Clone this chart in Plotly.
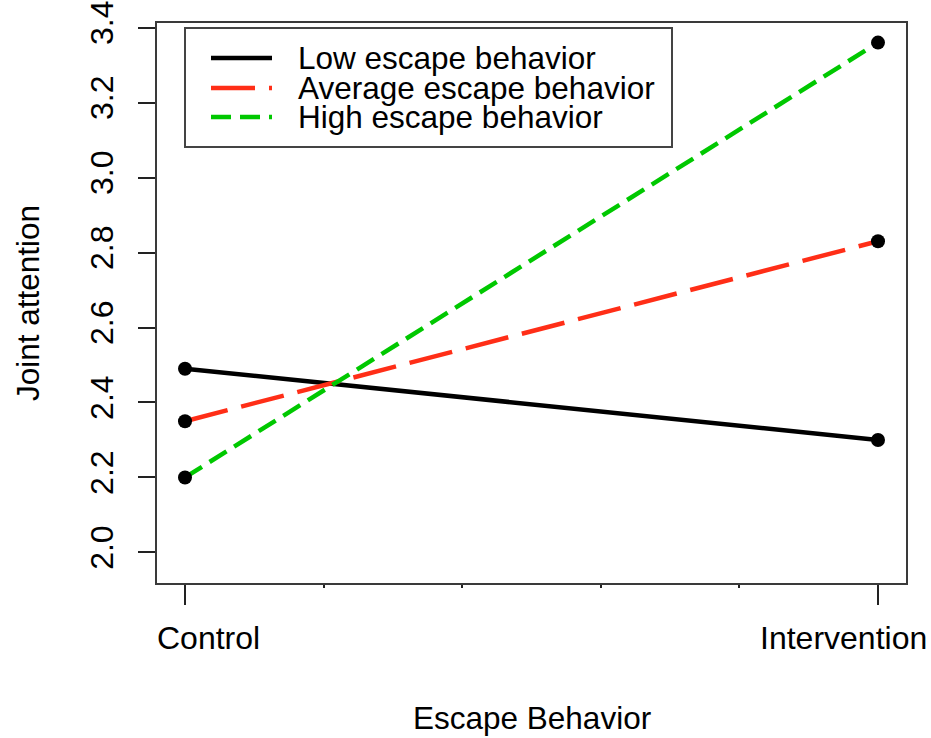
import plotly.graph_objects as go

# Predicted joint attention by condition, at three levels of escape behavior
conditions = ["Control", "Intervention"]
condition_pos = [0, 1]
series_names = ["Low escape behavior", "Average escape behavior", "High escape behavior"]
low_escape = [2.49, 2.30]
average_escape = [2.35, 2.83]
high_escape = [2.20, 3.36]
y_ticks = [2.0, 2.2, 2.4, 2.6, 2.8, 3.0, 3.2, 3.4]
x_minor_ticks = [0.2, 0.4, 0.6, 0.8]
x_title = "Escape Behavior"
y_title = "Joint attention"

series_values = [low_escape, average_escape, high_escape]
line_colors = ["#000000", "#FF2E17", "#00C800"]
line_dashes = ["solid", "44px,14px", "20px,9px"]

FONT = "Liberation Sans, Arial, sans-serif"
W, H = 931, 738
ML, MR, MT, MB = 157, 25, 23, 155
PW, PH = W - ML - MR, H - MT - MB


def px_x(px):
    return (px - ML) / PW


def px_y(py):
    return (H - MB - py) / PH


fig = go.Figure()

for name, vals, col, dash in zip(series_names, series_values, line_colors, line_dashes):
    fig.add_trace(go.Scatter(
        x=condition_pos, y=vals, mode="lines", name=name,
        line=dict(color=col, width=4.5, dash=dash), showlegend=False,
    ))
for name, vals in zip(series_names, series_values):
    fig.add_trace(go.Scatter(
        x=condition_pos, y=vals, mode="markers", name=name,
        marker=dict(color="black", size=14), showlegend=False,
    ))

axis_col = "#3a3a3a"
fig.update_xaxes(
    range=[-0.0404, 1.0404], showgrid=False, zeroline=False, automargin=False,
    showline=True, mirror=True, linecolor=axis_col, linewidth=2,
    tickvals=condition_pos, ticktext=["", ""], ticks="outside", ticklen=20,
    tickwidth=1.5, tickcolor="#222",
    minor=dict(tickvals=x_minor_ticks, ticks="outside", ticklen=3,
               tickwidth=1.5, tickcolor="#222"),
)
fig.update_yaxes(
    range=[1.9184, 3.4123], showgrid=False, zeroline=False, automargin=False,
    showline=True, mirror=True, linecolor=axis_col, linewidth=2,
    tickvals=y_ticks, ticktext=[f"{v:.1f}" for v in y_ticks],
    ticks="outside", ticklen=17, tickwidth=1.5, tickcolor="#222",
    tickangle=-90, tickfont=dict(family=FONT, size=32, color="black"),
    ticklabelstandoff=12,
)

annotations = []
# condition labels under the x axis
annotations.append(dict(x=condition_pos[0], xref="x", y=0, yref="paper",
                        text=conditions[0], showarrow=False, xanchor="center",
                        yanchor="middle", xshift=23, yshift=-55,
                        font=dict(family=FONT, size=32, color="black")))
annotations.append(dict(x=condition_pos[1], xref="x", y=0, yref="paper",
                        text=conditions[1], showarrow=False, xanchor="center",
                        yanchor="middle", xshift=-35, yshift=-55,
                        font=dict(family=FONT, size=32, color="black")))
# axis titles
annotations.append(dict(x=0.5, xref="paper", y=0, yref="paper", text=x_title,
                        showarrow=False, xanchor="center", yanchor="middle",
                        yshift=-135, font=dict(family=FONT, size=31.5, color="black")))
annotations.append(dict(x=0, xref="paper", y=0.5, yref="paper", text=y_title,
                        showarrow=False, xanchor="center", yanchor="middle",
                        xshift=-129, textangle=-90,
                        font=dict(family=FONT, size=31.5, color="black")))

# legend box drawn inside the plot area
shapes = [dict(type="rect", xref="paper", yref="paper",
               x0=px_x(185), x1=px_x(672), y0=px_y(147), y1=px_y(28),
               line=dict(color="#444", width=2), fillcolor="white", layer="above")]
row_y = [58, 88, 117]
for name, col, dash, ry in zip(series_names, line_colors, line_dashes, row_y):
    shapes.append(dict(type="line", xref="paper", yref="paper",
                       x0=px_x(211), x1=px_x(272), y0=px_y(ry), y1=px_y(ry),
                       line=dict(color=col, width=4.5, dash=dash), layer="above"))
    annotations.append(dict(x=px_x(296), xref="paper", y=px_y(ry), yref="paper",
                            text=name, showarrow=False, xanchor="left",
                            yanchor="middle",
                            font=dict(family=FONT, size=31.5, color="black")))

fig.update_layout(
    width=W, height=H,
    margin=dict(l=ML, r=MR, t=MT, b=MB, autoexpand=False),
    paper_bgcolor="white", plot_bgcolor="white",
    shapes=shapes, annotations=annotations,
    font=dict(family=FONT, color="black"),
)

fig.write_html("out.html")
